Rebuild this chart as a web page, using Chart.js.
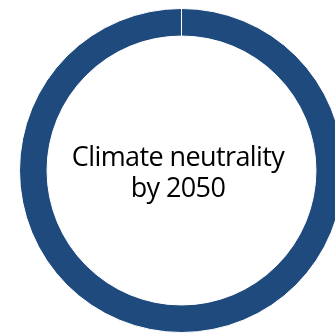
<!DOCTYPE html>
<html><head><meta charset="utf-8">
<script src="https://cdn.jsdelivr.net/npm/chart.js@4/dist/chart.umd.min.js"></script>
<style>
html,body{margin:0;padding:0;width:335px;height:336px;overflow:hidden;background:#fff;}
#wrap{position:absolute;left:19px;top:8px;width:325px;height:325px;}
#label{position:absolute;left:0;top:0;width:356px;height:342px;display:flex;align-items:center;justify-content:center;text-align:center;
font-family:"Open Sans","Noto Sans",sans-serif;font-size:27px;line-height:31px;color:#000;letter-spacing:-0.6px;}
</style></head><body>
<div id="wrap"><canvas id="c" width="325" height="325"></canvas></div>
<div id="label">Climate neutrality<br>by 2050</div>
<script>
const categories = ["Climate neutrality by 2050"];
const values = [100];
const colors = ["#1F4A7E"];
new Chart(document.getElementById('c'), {
  type: 'doughnut',
  data: { labels: categories, datasets: [{ data: values, backgroundColor: colors, borderColor: '#ffffff', borderWidth: 1 }] },
  options: {
    responsive: false, animation: false, cutout: '83%',
    layout: { padding: 0 },
    plugins: { legend: { display: false }, tooltip: { enabled: false } }
  }
});
</script>
</body></html>
